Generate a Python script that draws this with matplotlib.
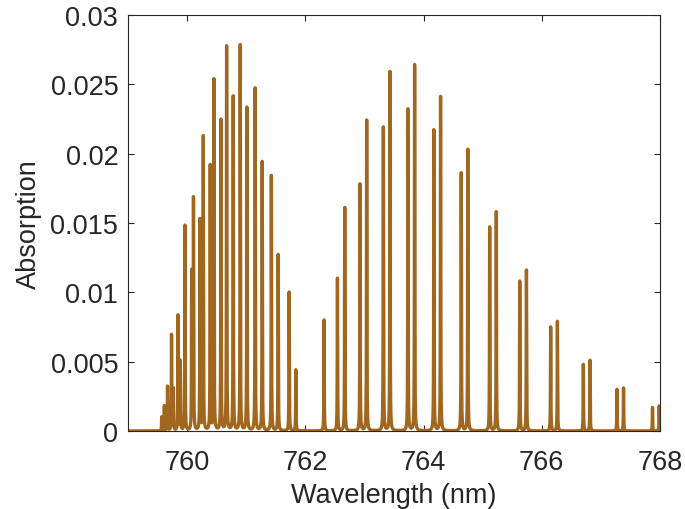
""" O2 A-band absorption spectrum """
import numpy as np
import matplotlib
matplotlib.use("Agg")
import matplotlib.pyplot as plt

# line centres (nm) and peak absorption, short-wavelength branch
r_centres = [759.569, 759.613, 759.667, 759.735, 759.765, 759.845, 759.883,
             759.963, 760.076, 760.106, 760.216, 760.272, 760.390, 760.453,
             760.571, 760.667, 760.779, 760.897, 761.010, 761.150, 761.269,
             761.424, 761.539, 761.725, 761.838]
r_peaks = [0.0010, 0.0018, 0.0032, 0.0069, 0.0030, 0.0083, 0.0050,
           0.0148, 0.0114, 0.0167, 0.0152, 0.0212, 0.0191, 0.0253,
           0.0224, 0.0277, 0.0241, 0.0278, 0.0233, 0.0247, 0.0194,
           0.0184, 0.0127, 0.0100, 0.0044]

# long-wavelength branch (doublets)
p_centres = [762.316, 762.542, 762.666, 762.924, 763.037, 763.319, 763.431,
             763.735, 763.848, 764.174, 764.287, 764.637, 764.748, 765.118,
             765.230, 765.627, 765.740, 766.150, 766.264, 766.703, 766.816,
             767.272, 767.383, 767.873, 767.986]
p_peaks = [0.0080, 0.0110, 0.0161, 0.0178, 0.0224, 0.0219, 0.0259,
           0.0232, 0.0264, 0.0217, 0.0241, 0.0186, 0.0203, 0.0147,
           0.0158, 0.0108, 0.0116, 0.0075, 0.0079, 0.0048, 0.0051,
           0.0030, 0.0031, 0.0017, 0.0018]

yticks = [0, 0.005, 0.01, 0.015, 0.02, 0.025, 0.03]
ytick_labels = ["0", "0.005", "0.01", "0.015", "0.02", "0.025", "0.03"]
xticks = [760, 762, 764, 766, 768]

hwhm = 0.0035  # nm, Lorentzian half width
wl = np.arange(759.0, 768.0005, 0.0005)
absorb = np.zeros_like(wl)
for c, h in zip(r_centres + p_centres, r_peaks + p_peaks):
    absorb += h * hwhm**2 / ((wl - c)**2 + hwhm**2)

plt.rcParams['font.family'] = ['Liberation Sans', 'DejaVu Sans']
grey = '#262626'

fig = plt.figure(figsize=(6.85, 5.10), dpi=100)
ax = fig.add_axes([0.187, 0.153, 0.7765, 0.8157])
ax.plot(wl, absorb, color='#A2671E', lw=2.4)

ax.set_xlim(759, 768)
ax.set_ylim(0, 0.03)
ax.set_xticks(xticks)
ax.set_yticks(yticks)
ax.set_yticklabels(ytick_labels)
ax.tick_params(direction='in', length=4, width=0.8, colors=grey,
               labelsize=19.5, top=True, right=True)
ax.tick_params(axis='x', pad=13)
ax.tick_params(axis='y', pad=7)
for s in ax.spines.values():
    s.set_color(grey)
    s.set_linewidth(0.8)
ax.set_xlabel("Wavelength (nm)", fontsize=19.5, color=grey, labelpad=5)
ax.set_ylabel("Absorption", fontsize=19.5, color=grey, labelpad=6)

fig.savefig("out.png", dpi=100)
